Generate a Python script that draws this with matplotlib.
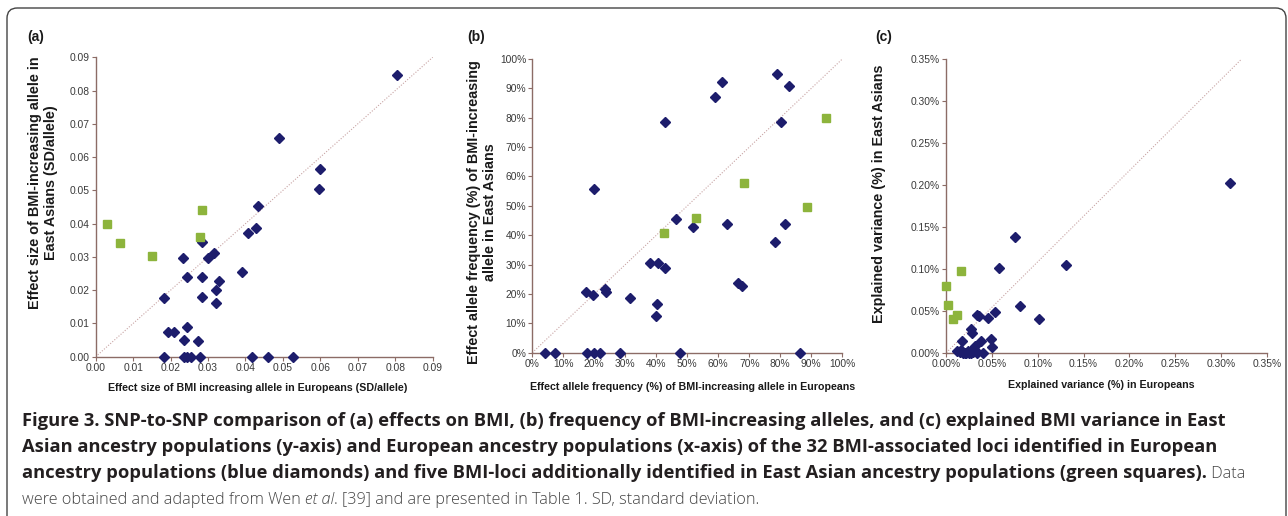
import numpy as np
import matplotlib
matplotlib.use("Agg")
import matplotlib.pyplot as plt
from matplotlib.patches import FancyBboxPatch
from matplotlib.ticker import FuncFormatter, MultipleLocator

# (a) effect size (SD/allele): Europeans (x) vs East Asians (y)
a_blue_x = [0.0804, 0.0490, 0.0598, 0.0597, 0.0433, 0.0429, 0.0407, 0.0283, 0.0316, 0.0300,
            0.0233, 0.0244, 0.0285, 0.0390, 0.0328, 0.0321, 0.0285, 0.0321, 0.0183, 0.0194,
            0.0208, 0.0244, 0.0237, 0.0274,
            0.0183, 0.0237, 0.0244, 0.0255, 0.0279, 0.0417, 0.0461, 0.0527]
a_blue_y = [0.0846, 0.0658, 0.0565, 0.0505, 0.0453, 0.0386, 0.0372, 0.0346, 0.0311, 0.0296,
            0.0296, 0.0240, 0.0240, 0.0255, 0.0227, 0.0199, 0.0178, 0.0160, 0.0175, 0.0075,
            0.0075, 0.0090, 0.0050, 0.0046,
            0.0, 0.0, 0.0, 0.0, 0.0, 0.0, 0.0, 0.0]
a_green_x = [0.0031, 0.0065, 0.0150, 0.0285, 0.0279]
a_green_y = [0.0400, 0.0343, 0.0304, 0.0442, 0.0361]

# (b) effect allele frequency (%)
b_blue_x = [79.0, 61.2, 82.7, 58.8, 42.8, 80.3, 20.0, 46.3, 51.8, 62.7, 81.4, 78.2,
            38.1, 40.6, 42.9, 17.2, 19.7, 23.4, 23.9, 31.6, 40.3, 39.9, 66.5, 67.5,
            4.0, 7.2, 17.8, 19.8, 21.8, 28.4, 47.8, 86.3]
b_blue_y = [94.9, 92.1, 90.9, 87.1, 78.7, 78.7, 55.8, 45.6, 42.9, 43.7, 43.7, 37.7,
            30.6, 30.6, 28.7, 20.5, 19.6, 21.7, 20.5, 18.6, 16.6, 12.5, 23.6, 22.8,
            0, 0, 0, 0, 0, 0, 0, 0]
b_green_x = [42.4, 52.7, 68.3, 88.5, 94.7]
b_green_y = [40.9, 45.7, 57.8, 49.6, 79.8]

# (c) explained variance (%)
c_blue_x = [0.310, 0.0754, 0.0579, 0.1304, 0.0808, 0.1012, 0.0532, 0.0331, 0.0353, 0.0455,
            0.0266, 0.0280, 0.0168, 0.0382, 0.0492, 0.0317, 0.0503, 0.0401,
            0.012, 0.015, 0.018, 0.020, 0.022, 0.025, 0.027, 0.029, 0.031, 0.034,
            0.016, 0.024, 0.028, 0.033]
c_blue_y = [0.202, 0.1374, 0.1013, 0.1045, 0.0556, 0.0401, 0.0488, 0.0449, 0.0437, 0.0417,
            0.0286, 0.0238, 0.0135, 0.0135, 0.0159, 0.0079, 0.0064, 0.0,
            0.002, 0.001, 0.0, 0.0, 0.0, 0.0, 0.0, 0.001, 0.002, 0.001,
            0.003, 0.002, 0.003, 0.0]
c_green_x = [0.0, 0.0022, 0.0076, 0.0113, 0.0164]
c_green_y = [0.0794, 0.0568, 0.0401, 0.0449, 0.0969]

# reference lines as drawn in the figure
diag_a = ([0, 0.09], [0, 0.09])
diag_b = ([0, 100], [0, 100])
diag_c = ([0, 0.3226], [0, 0.35])

W, H = 1288, 516
BLUE = "#1d1d6c"
GREEN = "#8db43c"
SPINE = "#8c6c66"
TICKC = "#3a3a3a"

plt.rcParams['font.family'] = ['Liberation Sans', 'DejaVu Sans']

fig = plt.figure(figsize=(W / 100, H / 100), dpi=100)


def px_axes(x0, x1, ytop, ybot):
    return fig.add_axes([x0 / W, 1 - ybot / H, (x1 - x0) / W, (ybot - ytop) / H])


def style(ax, xmax, ymax, step, fmt):
    ax.set_xlim(0, xmax)
    ax.set_ylim(0, ymax)
    ax.xaxis.set_major_locator(MultipleLocator(step))
    ax.yaxis.set_major_locator(MultipleLocator(step))
    ax.xaxis.set_major_formatter(FuncFormatter(fmt))
    ax.yaxis.set_major_formatter(FuncFormatter(fmt))
    for s in ['top', 'right']:
        ax.spines[s].set_visible(False)
    for s in ['left', 'bottom']:
        ax.spines[s].set_color(SPINE)
        ax.spines[s].set_linewidth(1.0)
    ax.tick_params(direction='out', length=3, width=0.8, color=SPINE,
                   labelsize=7.4, labelcolor=TICKC, pad=1.5)
    ax.patch.set_alpha(0)


def scatter(ax, bx, by, gx, gy, diag):
    ax.plot(diag[0], diag[1], linestyle=(0, (1, 1.5)), color="#c8a4a4", lw=0.8, zorder=1)
    ax.plot(bx, by, 'D', color=BLUE, ms=4.6, mec=BLUE, clip_on=False, zorder=3)
    ax.plot(gx, gy, 's', color=GREEN, ms=5.4, mec=GREEN, clip_on=False, zorder=3)


lab_kw = dict(fontsize=10.4, fontweight='bold', color='#1a1a1a', linespacing=1.15)
xlab_kw = dict(fontsize=7.7, fontweight='bold', color='#1a1a1a')

# (a)
ax1 = px_axes(95.7, 432.7, 57.3, 356.7)
style(ax1, 0.09, 0.09, 0.01, lambda v, p: f"{v:.2f}")
scatter(ax1, a_blue_x, a_blue_y, a_green_x, a_green_y, diag_a)
ax1.set_ylabel("Effect size of BMI-increasing allele in\nEast Asians (SD/allele)", **lab_kw)
ax1.set_xlabel("Effect size of BMI increasing allele in Europeans (SD/allele)", **xlab_kw)
ax1.yaxis.set_label_coords((58 - 95.7) / 337, 0.58)
ax1.xaxis.set_label_coords(0.48, (356.7 - 383) / 299.4)

# (b)
ax2 = px_axes(532.3, 842.3, 59, 352.7)
style(ax2, 100, 100, 10, lambda v, p: f"{v:.0f}%")
scatter(ax2, b_blue_x, b_blue_y, b_green_x, b_green_y, diag_b)
ax2.set_ylabel("Effect allele frequency (%) of BMI-increasing\nallele in East Asians", **lab_kw)
ax2.set_xlabel("Effect allele frequency (%) of BMI-increasing allele in Europeans", **xlab_kw)
ax2.yaxis.set_label_coords((497 - 532.3) / 310, 0.48)
ax2.xaxis.set_label_coords((693 - 532.3) / 310, (352.7 - 382) / 293.7)

# (c)
ax3 = px_axes(946.3, 1266.7, 59, 352.7)
style(ax3, 0.35, 0.35, 0.05, lambda v, p: f"{v:.2f}%")
scatter(ax3, c_blue_x, c_blue_y, c_green_x, c_green_y, diag_c)
ax3.set_ylabel("Explained variance (%) in East Asians", **lab_kw)
ax3.set_xlabel("Explained variance (%) in Europeans", **xlab_kw)
ax3.yaxis.set_label_coords((886 - 946.3) / 320.4, 0.54)
ax3.xaxis.set_label_coords((1101 - 946.3) / 320.4, (352.7 - 380) / 293.7)

# panel letters
for lx, t in [(27, "(a)"), (467, "(b)"), (875, "(c)")]:
    fig.text(lx / W, 1 - 37 / H, t, fontsize=10, fontweight='bold', va='center', color='#1a1a1a')

# frame around figure
frame = FancyBboxPatch((7 / W, -0.1), (1286 - 7) / W, 0.1 + 1 - 8 / H,
                       boxstyle="round,pad=0,rounding_size=0.008",
                       transform=fig.transFigure, fill=False, ec="#444444", lw=1.0,
                       mutation_aspect=W / H)
fig.patches.append(frame)

# caption
cap_font = ['Open Sans', 'DejaVu Sans']
bold_lines = [
    "Figure 3. SNP-to-SNP comparison of (a) effects on BMI, (b) frequency of BMI-increasing alleles, and (c) explained BMI variance in East",
    "Asian ancestry populations (y-axis) and European ancestry populations (x-axis) of the 32 BMI-associated loci identified in European",
    "ancestry populations (blue diamonds) and five BMI-loci additionally identified in East Asian ancestry populations (green squares).",
]
base_y = [426.5, 452.5, 478.5, 503.5]
x_start = 22 / W
renderer = fig.canvas.get_renderer()

# size the caption so the first line spans the same width as in the original
probe = fig.text(0, 0, bold_lines[0], family=cap_font, fontsize=10, fontweight='bold')
pw = probe.get_window_extent(renderer).width
probe.remove()
cap_size = max(8, min(10 * 1206 / pw, 14))
reg_size = cap_size * 0.88

last = None
for t, by in zip(bold_lines, base_y):
    last = fig.text(x_start, 1 - by / H, t, family=cap_font, fontsize=cap_size,
                    fontweight='bold', color='#231f20', va='baseline')


def follow(prev, txt, by, **kw):
    ext = prev.get_window_extent(renderer)
    return fig.text(ext.x1 / W, 1 - by / H, txt, family=cap_font, fontsize=reg_size,
                    color='#444444', va='baseline', **kw)


follow(last, " Data", base_y[2], fontweight='light')
t1 = fig.text(x_start, 1 - base_y[3] / H, "were obtained and adapted from Wen ", family=cap_font,
              fontsize=reg_size, fontweight='light', color='#444444', va='baseline')
t2 = follow(t1, "et al", base_y[3], style='italic', fontweight='light')
follow(t2, ". [39] and are presented in Table 1. SD, standard deviation.", base_y[3],
       fontweight='light')

fig.savefig("out.png", dpi=100)
